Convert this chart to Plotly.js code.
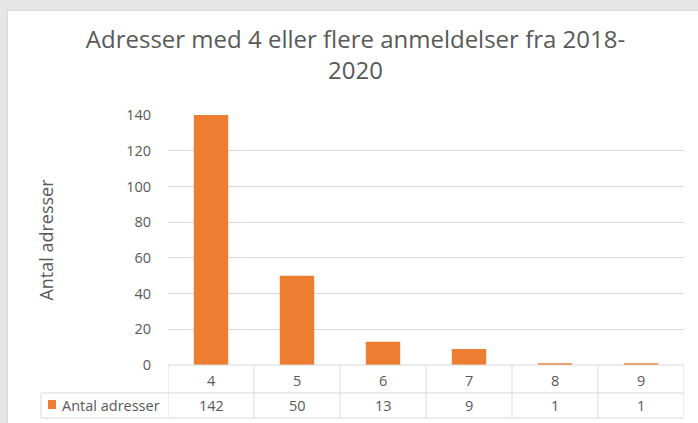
<!DOCTYPE html>
<html>
<head>
<meta charset="utf-8">
<script src="https://cdn.plot.ly/plotly-3.0.1.min.js"></script>
<style>
html,body{margin:0;padding:0;background:#E6E6E6;width:698px;height:423px;overflow:hidden;}
#frame{position:absolute;left:7px;top:10px;width:691px;height:413px;background:#D9D9D9;}
#chart{position:absolute;left:8px;top:11px;width:690px;height:412px;background:#fff;}
</style>
</head>
<body>
<div id="frame"></div>
<div id="chart"></div>
<script>
const categories = ['4','5','6','7','8','9'];
const values = [142, 50, 13, 9, 1, 1];
const seriesName = 'Antal adresser';
const titleText = 'Adresser med 4 eller flere anmeldelser fra 2018-<br>2020';
const yTitle = 'Antal adresser';

const FONT = '"Open Sans", sans-serif';
const GREY = '#595959';
const LINE = '#D9D9D9';
const ORANGE = '#ED7D31';
const SMALL = 14.5;

// page-pixel helpers (plot area: left 168, top 115, width 516, height 250 in page px)
const px = p => (p - 168) / 516;
const py = p => (365 - p) / 250;

const shapes = [];
const annotations = [];
const lineStyle = {color: LINE, width: 1};
shapes.push({type:'line', xref:'paper', yref:'paper', x0:0, x1:1, y0:0, y1:0, line:lineStyle});
shapes.push({type:'line', xref:'paper', yref:'paper', x0:px(41), x1:1, y0:py(393), y1:py(393), line:lineStyle});
shapes.push({type:'line', xref:'paper', yref:'paper', x0:px(41), x1:1, y0:py(418), y1:py(418), line:lineStyle});
shapes.push({type:'line', xref:'paper', yref:'paper', x0:px(41), x1:px(41), y0:py(393), y1:py(418), line:lineStyle});
for (let i = 0; i <= categories.length; i++) {
  shapes.push({type:'line', xref:'x', yref:'paper', x0:i-0.5, x1:i-0.5, y0:0, y1:py(418), line:lineStyle});
}
shapes.push({type:'rect', xref:'paper', yref:'paper', x0:px(48), x1:px(56), y0:py(400), y1:py(409), fillcolor:ORANGE, line:{width:0}});
annotations.push({xref:'paper', yref:'paper', x:px(60), y:py(405), text:seriesName, showarrow:false, xanchor:'left', yanchor:'middle', font:{family:FONT, size:SMALL, color:GREY}});

categories.forEach((c, i) => {
  annotations.push({xref:'x', yref:'paper', x:i, y:py(380), text:c, showarrow:false, yanchor:'middle', font:{family:FONT, size:SMALL, color:GREY}});
  annotations.push({xref:'x', yref:'paper', x:i, y:py(405), text:String(values[i]), showarrow:false, yanchor:'middle', font:{family:FONT, size:SMALL, color:GREY}});
});

const data = [{
  type:'bar', x:categories, y:values, name:seriesName,
  marker:{color:ORANGE}, width:0.4, hoverinfo:'none'
}];

const layout = {
  width:690, height:412,
  margin:{l:160, r:14, t:104, b:58, pad:0},
  paper_bgcolor:'#fff', plot_bgcolor:'#fff',
  showlegend:false,
  font:{family:FONT, color:GREY},
  title:{text:titleText, x:(355.5-8)/690, xref:'container', xanchor:'center', y:1-37/412, yref:'container', yanchor:'top',
         font:{family:FONT, size:24, color:GREY}},
  xaxis:{type:'category', range:[-0.5, 5.5], showgrid:false, showticklabels:false, ticks:'', zeroline:false, showline:false, fixedrange:true},
  yaxis:{range:[0,140], dtick:20, tick0:0, showgrid:true, gridcolor:LINE, gridwidth:1, zeroline:false, showline:false,
         ticks:'', ticklabelstandoff:16, tickfont:{family:FONT, size:SMALL, color:GREY},
         title:{text:yTitle, standoff:67, font:{family:FONT, size:18, color:GREY}}, automargin:false, fixedrange:true},
  shapes:shapes, annotations:annotations
};

Plotly.newPlot('chart', data, layout, {displayModeBar:false, staticPlot:true});
</script>
</body>
</html>
